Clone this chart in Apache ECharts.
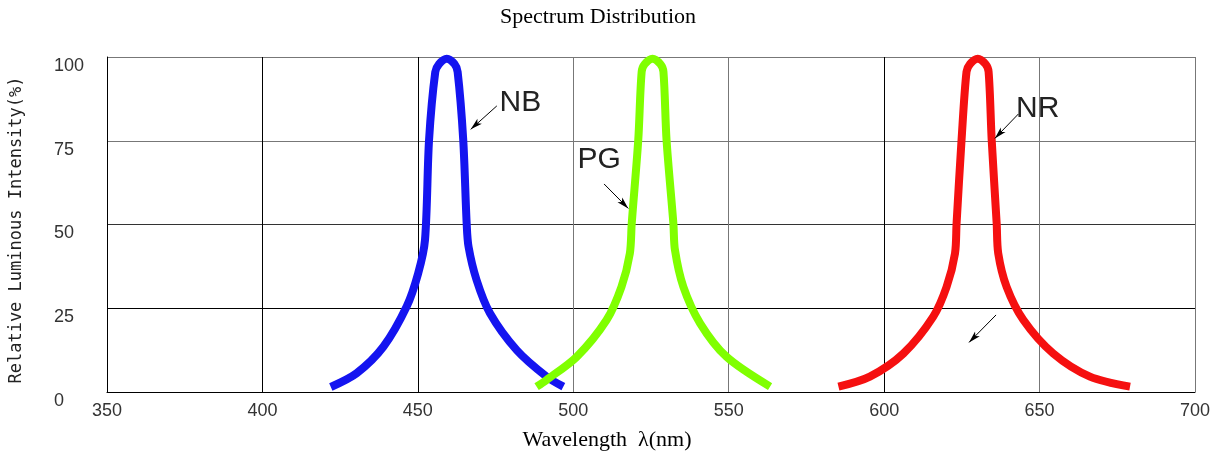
<!DOCTYPE html>
<html>
<head>
<meta charset="utf-8">
<script src="https://cdn.jsdelivr.net/npm/echarts@6/dist/echarts.min.js"></script>
<style>html,body{margin:0;padding:0;background:#fff}#c{width:1225px;height:460px}</style>
</head>
<body>
<div id="c"></div>
<script>
// ---- data ----
var xTicks = [350, 400, 450, 500, 550, 600, 650, 700];
var yTicks = [0, 25, 50, 75, 100];
var nbData = [[422, 1.5], [430.3, 5.6], [438.9, 13.5], [446.4, 25.5], [450.1, 35.4], [452.3, 45.4], [453.6, 75.2], [455.6, 95.5], [456.8, 97.9], [459.3, 99.5], [461.8, 97.9], [462.8, 95.5], [464.6, 75.2], [465.7, 50.3], [466.3, 43.4], [468.9, 33.4], [473.2, 23.5], [481.8, 12.5], [491.4, 4.6], [496.8, 1.6]];
var pgData = [[488.2, 1.6], [491.4, 3.6], [501.1, 10.5], [510.7, 21.5], [515.5, 31.4], [518.2, 41.4], [518.8, 50.3], [520.9, 75.2], [522.0, 95.6], [523.0, 97.9], [525.5, 99.5], [528.0, 97.9], [529.0, 95.6], [530.0, 75.2], [532.2, 50.3], [532.7, 42.4], [535.4, 31.4], [540.8, 20.5], [549.3, 10.5], [563.3, 1.6]];
var nrData = [[585.3, 1.6], [595.4, 4.6], [606.2, 11.5], [615.8, 22.5], [620.1, 31.4], [622.8, 41.4], [623.3, 50.3], [624.9, 75.2], [626.5, 95.6], [627.6, 97.9], [630.1, 99.5], [632.6, 97.9], [633.6, 95.6], [634.6, 75.2], [636.2, 50.3], [636.7, 41.4], [639.4, 31.4], [644.8, 21.5], [654.4, 11.5], [666.2, 4.6], [679.1, 1.6]];
var seriesNames = ['NB', 'PG', 'NR'];
var seriesColors = ['#1414f0', '#80ff00', '#f51010'];
// annotation arrows: [from, to] in data units (arrowhead at 'to')
var nbArrow = [[475.4, 85.4], [467.0, 78.4]];
var pgArrow = [[509.9, 62.1], [517.7, 54.8]];
var nrArrow = [[643.2, 83.0], [635.6, 75.7]];
var nrArrow2 = [[636.0, 23.0], [627.3, 14.8]];
// annotation label anchor points
var nbLabel = [483.0, 86.3];
var pgLabel = [508.3, 69.3];
var nrLabel = [649.4, 84.5];
var titleText = 'Spectrum Distribution';
var xName = 'Wavelength  \u03bb(nm)';
var yName = 'Relative Luminous Intensity(%)';

var chart = echarts.init(document.getElementById('c'), null, {renderer: 'canvas'});

function arrowLine(a) {
  return [{coord: a[0], symbol: 'none'}, {coord: a[1], symbol: 'arrow'}];
}
function markLineOf(arrows) {
  return {
    silent: true, animation: false,
    symbolSize: [5, 12],
    lineStyle: {color: '#000', width: 1, type: 'solid'},
    label: {show: false},
    emphasis: {disabled: true},
    data: arrows.map(arrowLine)
  };
}
function markPointOf(name, coord) {
  return {
    silent: true, animation: false,
    symbol: 'rect', symbolSize: 1,
    itemStyle: {color: 'rgba(0,0,0,0)'},
    label: {show: true, position: 'inside', formatter: '{b}', color: '#222', fontSize: 30, fontFamily: '"Liberation Sans", Arial, sans-serif'},
    data: [{name: name, coord: coord}]
  };
}
function lineSeries(i, data, arrows, labelCoord) {
  return {
    type: 'line', name: seriesNames[i], data: data,
    smooth: 0.3, symbol: 'none', showSymbol: false,
    lineStyle: {color: seriesColors[i], width: 8},
    itemStyle: {color: seriesColors[i]},
    emphasis: {disabled: true},
    z: 3,
    markLine: markLineOf(arrows),
    markPoint: markPointOf(seriesNames[i], labelCoord)
  };
}

chart.setOption({
  animation: false,
  backgroundColor: '#fff',
  grid: {left: 107, right: 30, top: 57, bottom: 68, containLabel: false, outerBoundsMode: 'none'},
  xAxis: {
    type: 'value', min: xTicks[0], max: xTicks[xTicks.length - 1], interval: 50,
    axisLine: {show: true, lineStyle: {color: '#000', width: 1}},
    axisTick: {show: false},
    axisLabel: {margin: 10, color: '#333', fontSize: 18, fontFamily: '"Liberation Sans", Arial, sans-serif'},
    splitLine: {show: true, lineStyle: {color: ['#000', '#000', '#000', '#777', '#777', '#000', '#777', '#777'], width: 1}}
  },
  yAxis: {
    type: 'value', min: yTicks[0], max: yTicks[yTicks.length - 1], interval: 25,
    axisLine: {show: true, lineStyle: {color: '#000', width: 1}},
    axisTick: {show: false},
    axisLabel: {margin: 53, align: 'left', verticalAlign: 'top', color: '#333', fontSize: 18, fontFamily: '"Liberation Sans", Arial, sans-serif'},
    splitLine: {show: true, lineStyle: {color: ['#000', '#000', '#333', '#777', '#777'], width: 1}}
  },
  graphic: [
    {type: 'text', x: 598, y: 17, silent: true, style: {text: titleText, font: '22px "Liberation Serif", "Times New Roman", serif', fill: '#000', align: 'center', verticalAlign: 'middle'}},
    {type: 'text', x: 607, y: 440, silent: true, style: {text: xName, font: '22px "Liberation Serif", "Times New Roman", serif', fill: '#000', align: 'center', verticalAlign: 'middle'}},
    {type: 'text', x: 17, y: 230, rotation: Math.PI / 2, silent: true, style: {text: yName, font: '17px "DejaVu Sans Mono", monospace', fill: '#222', align: 'center', verticalAlign: 'middle'}}
  ],
  series: [
    lineSeries(0, nbData, [nbArrow], nbLabel),
    lineSeries(1, pgData, [pgArrow], pgLabel),
    lineSeries(2, nrData, [nrArrow, nrArrow2], nrLabel)
  ]
});
</script>
</body>
</html>
